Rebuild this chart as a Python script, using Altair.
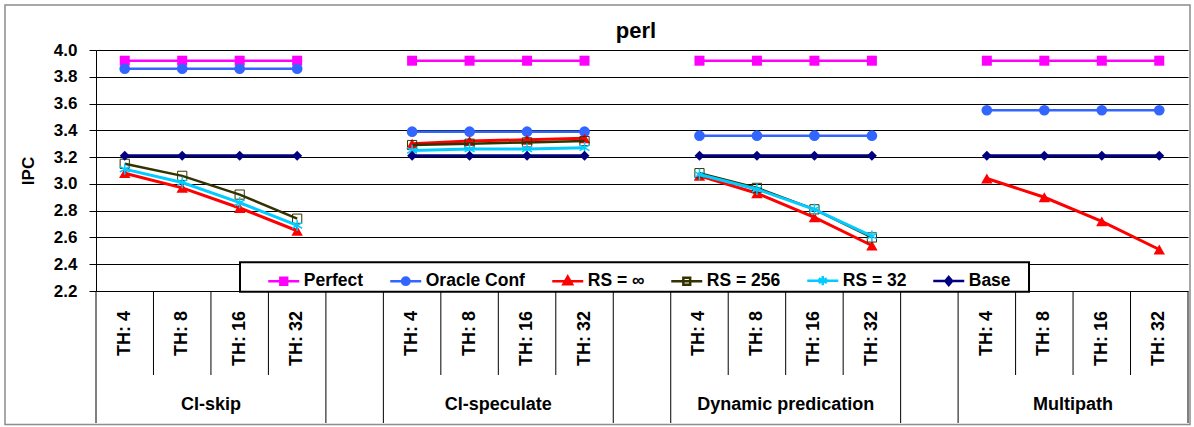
import altair as alt
import pandas as pd

# ---- data -------------------------------------------------------------
groups = ["CI-skip", "CI-speculate", "Dynamic predication", "Multipath"]
thresholds = ["TH: 4", "TH: 8", "TH: 16", "TH: 32"]
series_names = ["Perfect", "Oracle Conf", "RS = \u221e", "RS = 256", "RS = 32", "Base"]
y_ticks = [2.2, 2.4, 2.6, 2.8, 3.0, 3.2, 3.4, 3.6, 3.8, 4.0]

# IPC per group, thresholds in order TH: 4, 8, 16, 32 (None = not measured)
perfect = [
    [3.92, 3.92, 3.92, 3.92],
    [3.92, 3.92, 3.92, 3.92],
    [3.92, 3.92, 3.92, 3.92],
    [3.92, 3.92, 3.92, 3.92],
]
oracle_conf = [
    [3.86, 3.86, 3.86, 3.86],
    [3.39, 3.39, 3.39, 3.39],
    [3.36, 3.36, 3.36, 3.36],
    [3.55, 3.55, 3.55, 3.55],
]
rs_inf = [
    [3.08, 2.97, 2.82, 2.65],
    [3.30, 3.32, 3.33, 3.34],
    [3.06, 2.93, 2.75, 2.54],
    [3.04, 2.90, 2.72, 2.51],
]
rs_256 = [
    [3.15, 3.06, 2.92, 2.74],
    [3.29, 3.30, 3.31, 3.32],
    [3.08, 2.97, 2.81, 2.60],
    None,
]
rs_32 = [
    [3.11, 3.01, 2.86, 2.69],
    [3.25, 3.26, 3.26, 3.27],
    [3.07, 2.96, 2.81, 2.61],
    None,
]
base = [
    [3.21, 3.21, 3.21, 3.21],
    [3.21, 3.21, 3.21, 3.21],
    [3.21, 3.21, 3.21, 3.21],
    [3.21, 3.21, 3.21, 3.21],
]
series_values = [perfect, oracle_conf, rs_inf, rs_256, rs_32, base]

# ---- category layout: 4 slots per group, one empty slot between groups ----
SLOTS_PER_GROUP = len(thresholds) + 1
N_SLOTS = len(groups) * SLOTS_PER_GROUP - 1

rows = []
for name, per_group in zip(series_names, series_values):
    for g, grp in enumerate(groups):
        if per_group[g] is None:
            continue
        for t, v in enumerate(per_group[g]):
            rows.append({"series": name, "group": grp,
                         "slot": g * SLOTS_PER_GROUP + t, "ipc": v})
df = pd.DataFrame(rows)

th_labels = pd.DataFrame([
    {"slot": g * SLOTS_PER_GROUP + t, "label": lab}
    for g in range(len(groups)) for t, lab in enumerate(thresholds)
])
group_labels = pd.DataFrame([
    {"slot": g * SLOTS_PER_GROUP + (len(thresholds) - 1) / 2, "label": grp}
    for g, grp in enumerate(groups)
])
long_edges, short_edges = [], []
for g in range(len(groups)):
    start = g * SLOTS_PER_GROUP
    long_edges += [start - 0.5, start + len(thresholds) - 0.5]
    short_edges += [start + t - 0.5 for t in range(1, len(thresholds))]
long_edges_df = pd.DataFrame({"edge": long_edges})
short_edges_df = pd.DataFrame({"edge": short_edges})

# ---- styling ------------------------------------------------------------
FONT = "Liberation Sans"
W, H = 1092, 241

styles = {
    "Perfect":     dict(color="#FF00FF", lw=2.5, shape="square", size=100, filled=True, sw=1),
    "Oracle Conf": dict(color="#3366FF", lw=2.5, shape="circle", size=115, filled=True, sw=1),
    "RS = \u221e": dict(color="#FF0000", lw=3, shape="triangle-up", size=130, filled=True, sw=1),
    "RS = 256":    dict(color="#333300", lw=2.5, shape="square", size=85, filled=False, sw=1),
    "RS = 32":     dict(color="#00CCFF", lw=3,
                        shape="M0,-1L0,1M-0.87,-0.5L0.87,0.5M-0.87,0.5L0.87,-0.5",
                        size=130, filled=False, sw=1.5),
    "Base":        dict(color="#000080", lw=3, shape="diamond", size=100, filled=True, sw=1),
}

# legend glyphs: a line segment with the series marker on top of it
legend_paths = [
    "M-1,0L1,0M-0.22,-0.22L0.22,-0.22L0.22,0.22L-0.22,0.22Z",
    "M-1,0L1,0M-0.24,0A0.24,0.24,0,1,0,0.24,0A0.24,0.24,0,1,0,-0.24,0Z",
    "M-1,0L1,0M0,-0.3L0.28,0.2L-0.28,0.2Z",
    "M-1,0L1,0M-0.22,-0.22L0.22,-0.22L0.22,0.22L-0.22,0.22Z",
    "M-1,0L1,0M0,-0.3L0,0.3M-0.26,-0.15L0.26,0.15M-0.26,0.15L0.26,-0.15",
    "M-1,0L1,0M0,-0.26L0.22,0L0,0.26L-0.22,0Z",
]
legend_fills = ["#FF00FF", "#3366FF", "#FF0000", "transparent", "#00CCFF", "#000080"]
legend_strokes = ["#FF00FF", "#3366FF", "#FF0000", "#333300", "#00CCFF", "#000080"]

x_scale = alt.Scale(domain=[-0.5, N_SLOTS - 0.5], nice=False, zero=False)
y_axis = alt.Axis(
    values=y_ticks, format=".1f", title="IPC",
    titleFont=FONT, titleFontSize=17, titleFontWeight="bold", titleColor="black",
    titleAngle=270, titleX=-68, titleY=H / 2, titleAlign="center", titleBaseline="middle",
    labelFont=FONT, labelFontSize=17, labelFontWeight="bold", labelColor="black",
    labelPadding=12, tickSize=7, tickColor="black", tickWidth=1,
    domainColor="black", domainWidth=1, grid=True, gridColor="black", gridWidth=1,
)
X = alt.X("slot:Q", scale=x_scale, axis=None)
Y = alt.Y("ipc:Q", scale=alt.Scale(domain=[2.2, 4.0], nice=False, zero=False), axis=y_axis)

one_row = alt.Data(values=[{}])

# outer chart border
frame = alt.Chart(one_row).mark_rect(fill="transparent", stroke="#8C8C8C", strokeWidth=1.5).encode(
    x=alt.value(-91), x2=alt.value(1094), y=alt.value(-45), y2=alt.value(374.5)
)

layers = [frame]
for name in series_names:
    st = styles[name]
    sub = alt.Chart(df).transform_filter(alt.datum.series == name)
    layers.append(sub.mark_line(color=st["color"], strokeWidth=st["lw"]).encode(
        x=X, y=Y, detail="group:N"))
    layers.append(sub.mark_point(shape=st["shape"], filled=st["filled"], color=st["color"],
                                 size=st["size"], strokeWidth=st["sw"], opacity=1).encode(x=X, y=Y))

# two-tier category axis under the plot
layers.append(alt.Chart(short_edges_df).mark_rule(color="black", strokeWidth=1).encode(
    x=alt.X("edge:Q", scale=x_scale, axis=None), y=alt.value(H), y2=alt.value(H + 84)))
layers.append(alt.Chart(long_edges_df).mark_rule(color="black", strokeWidth=1).encode(
    x=alt.X("edge:Q", scale=x_scale, axis=None), y=alt.value(H), y2=alt.value(H + 132)))
layers.append(alt.Chart(th_labels).mark_text(
    angle=270, align="right", baseline="middle", font=FONT, fontSize=18,
    fontWeight="bold", color="black").encode(
    x=alt.X("slot:Q", scale=x_scale, axis=None), y=alt.value(H + 20), text="label:N"))
layers.append(alt.Chart(group_labels).mark_text(
    align="center", baseline="middle", font=FONT, fontSize=18,
    fontWeight="bold", color="black").encode(
    x=alt.X("slot:Q", scale=x_scale, axis=None), y=alt.value(H + 114), text="label:N"))

# legend box
layers.append(alt.Chart(one_row).mark_rect(fill="white", stroke="black", strokeWidth=2).encode(
    x=alt.value(144), x2=alt.value(933), y=alt.value(212.3), y2=alt.value(241.7)))

legend = alt.Legend(
    title=None, orient="none", legendX=170.75, legendY=213.5, direction="horizontal",
    columns=6, columnPadding=21, padding=0, symbolSize=961, symbolStrokeWidth=2.5,
    symbolOpacity=1, labelFont=FONT, labelFontSize=17.5, labelFontWeight="bold",
    labelColor="black", labelOffset=3, labelLimit=300,
)
legend_src = pd.DataFrame({"series": series_names})
layers.append(alt.Chart(legend_src).mark_point(opacity=0, filled=True).encode(
    shape=alt.Shape("series:N", scale=alt.Scale(domain=series_names, range=legend_paths), legend=legend),
    fill=alt.Fill("series:N", scale=alt.Scale(domain=series_names, range=legend_fills), legend=legend),
    stroke=alt.Stroke("series:N", scale=alt.Scale(domain=series_names, range=legend_strokes), legend=legend),
))

chart = alt.layer(*layers).properties(
    width=W, height=H,
    title=alt.TitleParams("perl", font=FONT, fontSize=22, fontWeight="bold", color="black",
                          anchor="middle", frame="group", dx=-6, offset=-56, baseline="alphabetic"),
    autosize=alt.AutoSizeParams(type="none"),
    padding={"left": 96, "top": 50, "right": 6, "bottom": 136},
).configure_view(stroke=None)

chart.save("out.html", embed_options={"renderer": "svg", "actions": False})
